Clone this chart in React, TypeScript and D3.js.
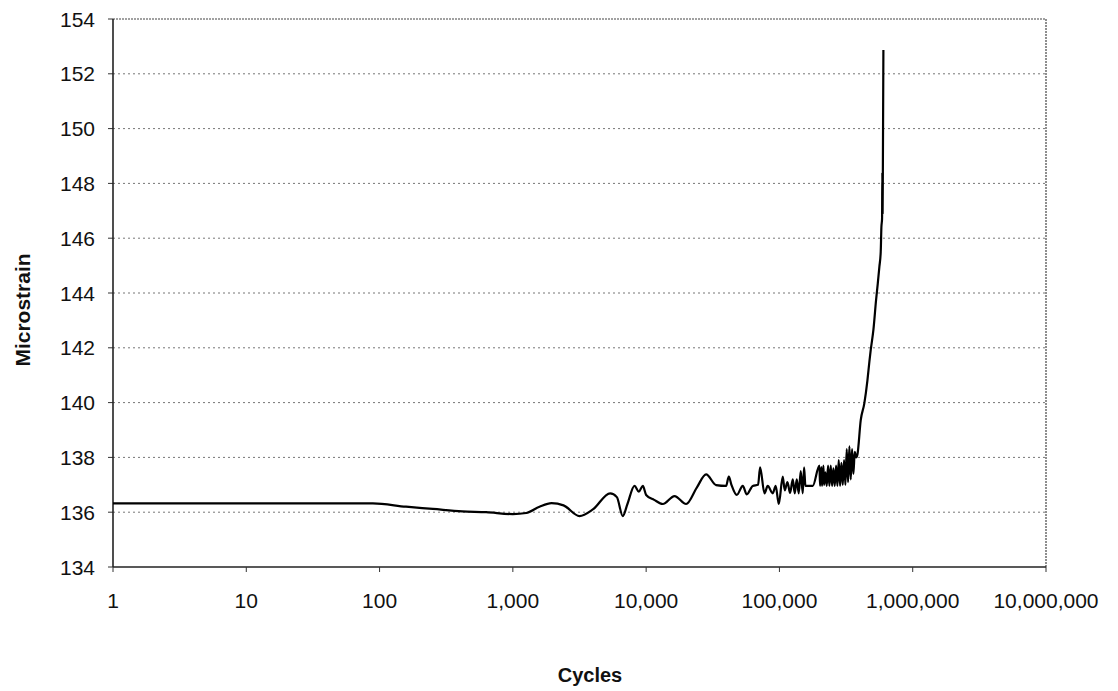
import React from "react";
import * as d3 from "d3";

const cycles = [
  1, 2, 5, 10, 30, 89, 158, 251, 417, 631, 1000, 1259, 1585, 1950, 2400, 3160, 3980,
  5370, 6030, 6680, 7240, 8180, 8810, 9440, 10000, 11480, 13340, 16330, 19950, 23990,
  28180, 33500, 39800, 41690, 43650, 47860, 53090, 56890, 63100, 69180, 71600, 77270,
  81660, 89130, 93760, 98850, 105900, 109600, 114800, 120200, 125900, 130300, 134900,
  139600, 144500, 149600, 153100, 156700, 177800,
  199500, 201800, 206500, 208900, 213800, 216300, 221300, 226500, 231700, 237100,
  242700, 248300, 254100, 260000, 266100, 272300, 278600, 285100, 291700, 298500,
  305500, 312600, 319900, 327300, 335000, 342800, 350800, 358900, 367300, 375800,
  384600, 407400, 433500, 457100, 473200, 484200, 507000, 530900, 547000, 562300,
  575400, 582100, 588800, 591600, 594300, 597000, 602600,
];

const microstrain = [
  136.32, 136.32, 136.32, 136.32, 136.32, 136.32, 136.2, 136.12, 136.03, 136.0, 135.93,
  135.97, 136.2, 136.33, 136.25, 135.86, 136.1, 136.69, 136.55, 135.86, 136.3, 136.96,
  136.75, 136.96, 136.63, 136.45, 136.3, 136.59, 136.3, 136.9, 137.38, 136.99, 136.96,
  137.3, 137.0, 136.63, 136.96, 136.65, 136.96, 137.0, 137.64, 136.69, 136.96, 136.69,
  136.96, 136.3, 137.3, 136.8, 137.1, 136.7, 137.2, 136.69, 137.2, 136.69, 137.5, 136.69,
  137.64, 136.96, 136.96,
  137.7, 136.96, 137.65, 136.96, 137.7, 137.0, 137.45, 136.96, 137.7, 136.96, 137.7,
  136.96, 137.6, 136.96, 137.7, 136.96, 137.9, 136.96, 137.8, 137.0, 137.9, 137.0, 138.3,
  137.1, 138.4, 137.2, 138.3, 137.4, 138.2, 138.0, 138.1, 139.36, 139.97, 140.8, 141.5,
  141.92, 142.65, 143.74, 144.35, 144.96, 145.5, 146.4, 146.7, 148.4, 146.9, 148.4, 152.87,
];

const xTicks = [1, 10, 100, 1000, 10000, 100000, 1000000, 10000000];
const yTicks = [134, 136, 138, 140, 142, 144, 146, 148, 150, 152, 154];

const W = 1118;
const H = 691;
const L = 113;
const R = 1046;
const T = 19;
const B = 567;
const FONT = "'Liberation Sans', Arial, sans-serif";

export default function App() {
  const x = d3.scaleLog().domain([1, 10000000]).range([L, R]);
  const y = d3.scaleLinear().domain([134, 154]).range([B, T]);
  const pts: [number, number][] = cycles.map((c, i) => [c, microstrain[i]]);
  const line = d3
    .line<[number, number]>()
    .x((d) => x(d[0]))
    .y((d) => y(d[1]))
    .curve(d3.curveMonotoneX);
  const fmt = d3.format(",");

  return (
    <svg
      width={W}
      height={H}
      style={{ position: "absolute", left: 0, top: 0, background: "#fff" }}
    >
      <rect x={0} y={0} width={W} height={H} fill="#fff" />
      {yTicks.map((t) => (
        <g key={"y" + t}>
          {t !== 134 && t !== 154 && (
            <line
              x1={L}
              x2={R}
              y1={y(t)}
              y2={y(t)}
              stroke="#777"
              strokeWidth={1}
              strokeDasharray="2,3"
            />
          )}
          <line x1={L - 5} x2={L} y1={y(t)} y2={y(t)} stroke="#333" strokeWidth={1} />
          <text
            x={95}
            y={y(t)}
            dy="0.36em"
            textAnchor="end"
            fontFamily={FONT}
            fontSize={21}
            fill="#111"
          >
            {t}
          </text>
        </g>
      ))}
      <line x1={L} x2={R} y1={T} y2={T} stroke="#444" strokeWidth={1.2} strokeDasharray="2,1" />
      <line x1={R} x2={R} y1={T} y2={B} stroke="#444" strokeWidth={1.2} strokeDasharray="2,1" />
      <line x1={L} x2={L} y1={T} y2={B} stroke="#222" strokeWidth={1.6} />
      <line x1={L} x2={R} y1={B} y2={B} stroke="#222" strokeWidth={1.6} />
      {xTicks.map((t) => (
        <g key={"x" + t}>
          <line x1={x(t)} x2={x(t)} y1={B} y2={B + 5} stroke="#333" strokeWidth={1} />
          <text
            x={x(t)}
            y={608}
            textAnchor="middle"
            fontFamily={FONT}
            fontSize={21}
            fill="#111"
          >
            {fmt(t)}
          </text>
        </g>
      ))}
      <path
        d={line(pts) || ""}
        fill="none"
        stroke="#000"
        strokeWidth={2.2}
        strokeLinejoin="round"
      />
      <text
        x={590}
        y={682}
        textAnchor="middle"
        fontFamily={FONT}
        fontSize={20}
        fontWeight="bold"
        fill="#111"
      >
        Cycles
      </text>
      <text
        transform={`translate(30,310) rotate(-90)`}
        textAnchor="middle"
        fontFamily={FONT}
        fontSize={21}
        fontWeight="bold"
        fill="#111"
      >
        Microstrain
      </text>
    </svg>
  );
}
